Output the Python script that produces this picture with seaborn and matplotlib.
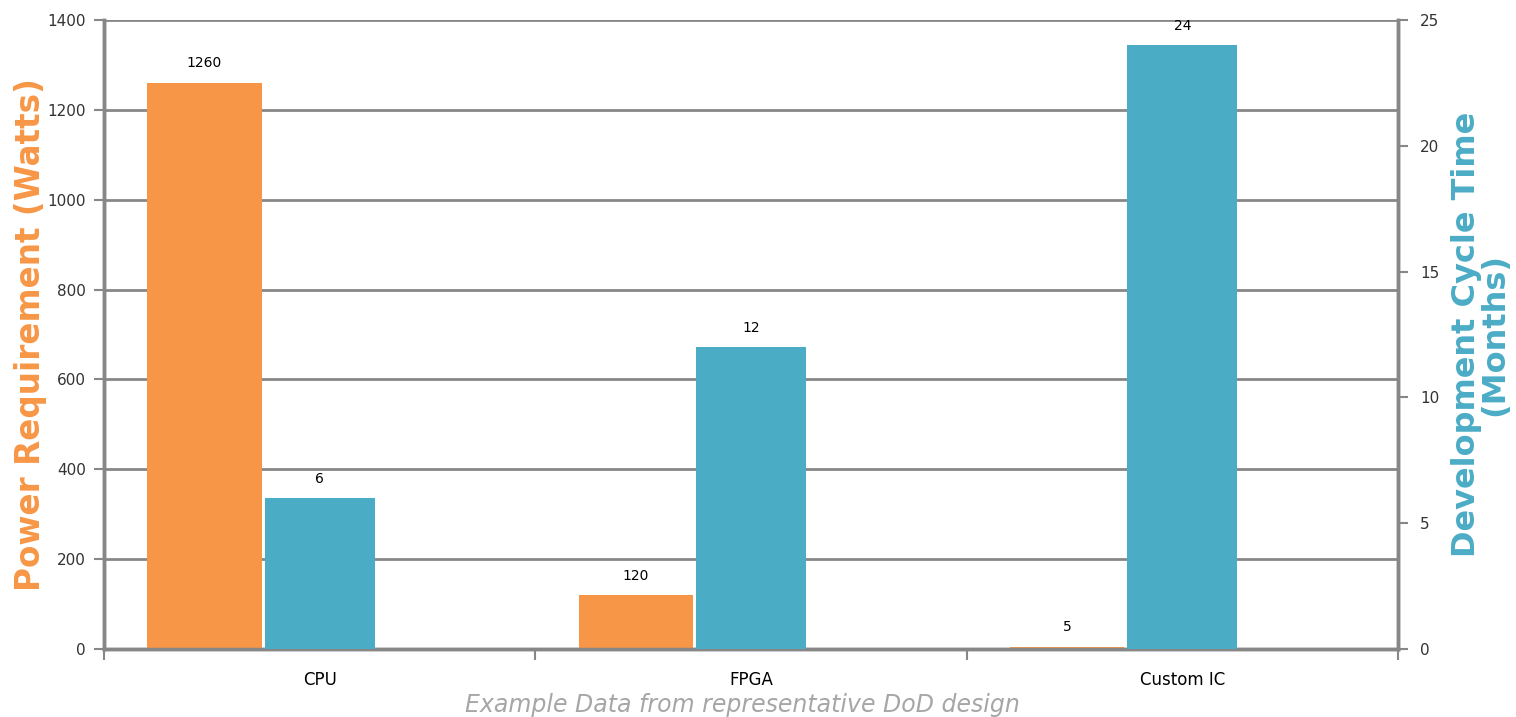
import numpy as np
import pandas as pd
import matplotlib
matplotlib.use("Agg")
import matplotlib.pyplot as plt
import seaborn as sns

# Data
categories = ["CPU", "FPGA", "Custom IC"]
power_watts = [1260, 120, 5]
dev_months = [6, 12, 24]

ORANGE = "#F79646"
TEAL = "#4BACC6"
GRID = "#878787"
TEXT = "#333333"

sns.set_theme(style="white")
plt.rcParams["font.family"] = ["DejaVu Sans"]

fig = plt.figure(figsize=(15.16, 7.17), dpi=100)
ax = fig.add_axes([104 / 1516, 1 - 649 / 717, (1398 - 104) / 1516, (649 - 20) / 717])
ax2 = ax.twinx()

pos = np.arange(len(categories))
df_power = pd.DataFrame({"x": pos - 0.267, "y": power_watts})
df_dev = pd.DataFrame({"x": pos + 0.0, "y": dev_months})

sns.barplot(data=df_power, x="x", y="y", native_scale=True, width=0.265,
            color=ORANGE, saturation=1, linewidth=0, ax=ax, zorder=3)
sns.barplot(data=df_dev, x="x", y="y", native_scale=True, width=0.255,
            color=TEAL, saturation=1, linewidth=0, ax=ax2, zorder=3)

ax.set_xlim(-0.5, 2.5)
ax.set_ylim(0, 1400)
ax2.set_ylim(0, 25)

# Gridlines from the primary axis
ax.set_yticks(np.arange(0, 1401, 200))
ax.yaxis.grid(True, color=GRID, linewidth=2, zorder=0)
ax.set_axisbelow(True)
ax2.set_yticks(np.arange(0, 26, 5))
ax2.grid(False)

# Category ticks: labels at centers, tick marks at boundaries
ax.set_xticks(pos)
ax.set_xticklabels(categories, fontsize=12, color="black")
ax.set_xticks(np.arange(-0.5, 2.6, 1.0), minor=True)
ax.tick_params(axis="x", which="major", length=0, pad=16)
ax.tick_params(axis="x", which="minor", bottom=True, length=8, width=1.5,
               color=GRID, direction="out")

ax.tick_params(axis="y", left=True, length=7, width=1.5, color=GRID, direction="out",
               labelsize=11, labelcolor=TEXT, pad=6)
ax2.tick_params(axis="y", right=True, length=7, width=1.5, color=GRID, direction="out",
                labelsize=11, labelcolor=TEXT, pad=9)
for lbl in ax.get_yticklabels() + ax2.get_yticklabels():
    lbl.set_fontweight("medium")

for a in (ax, ax2):
    for side in ("left", "right", "bottom"):
        a.spines[side].set_color(GRID)
        a.spines[side].set_linewidth(2.5)
    a.spines["top"].set_visible(False)
    a.set_xlabel("")

ax.set_ylabel("Power Requirement (Watts)", color=ORANGE, fontsize=23.5,
              fontweight="bold", labelpad=0)
ax2.set_ylabel("Development Cycle Time\n(Months)", color=TEAL, fontsize=23,
               fontweight="bold", labelpad=8, linespacing=0.92)

# Value labels above bars
for x, v in zip(df_power["x"], power_watts):
    ax.annotate(f"{v}", (x, v), xytext=(0, 9), textcoords="offset points",
                ha="center", va="bottom", fontsize=10, color="black")
for x, v in zip(df_dev["x"], dev_months):
    ax2.annotate(f"{v}", (x, v), xytext=(0, 9), textcoords="offset points",
                 ha="center", va="bottom", fontsize=10, color="black")

fig.text(742 / 1516, 1 - 705 / 717, "Example Data from representative DoD design",
         ha="center", va="center", fontsize=17, style="italic", color="#A6A6A6")

fig.savefig("out.png", dpi=100, facecolor="white")
